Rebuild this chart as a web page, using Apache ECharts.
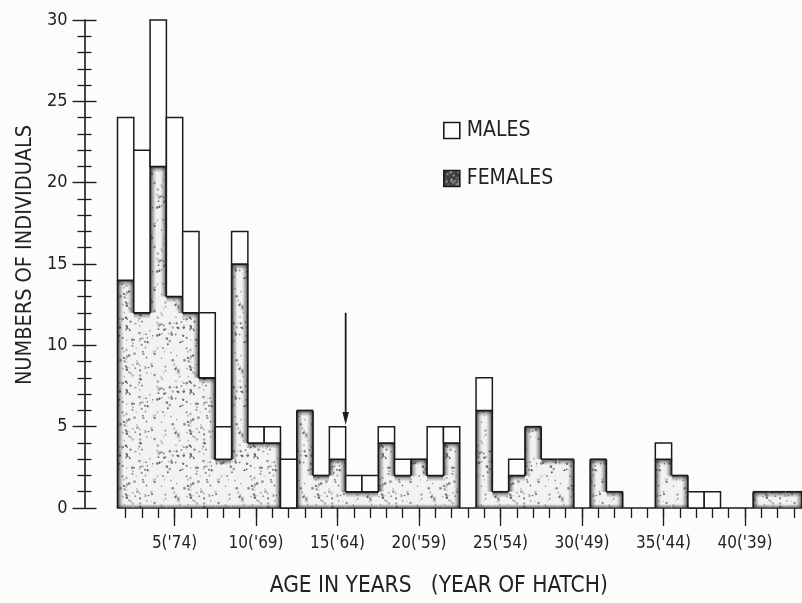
<!DOCTYPE html>
<html>
<head>
<meta charset="utf-8">
<script src="https://cdn.jsdelivr.net/npm/echarts@6/dist/echarts.min.js"></script>
<style>
  html, body { margin: 0; padding: 0; background: #fcfcfb; }
  #chart { width: 802px; height: 603px; }
</style>
</head>
<body>
<div id="chart"></div>
<script>
// Age classes (years) and counts of individuals per class
const ages = [2, 3, 4, 5, 6, 7, 8, 9, 10, 11, 12, 13, 14, 15, 16, 17, 18, 19, 20, 21, 22,
              23, 24, 25, 26, 27, 28, 29, 30, 31, 32, 33, 34, 35, 36, 37, 38, 39, 40, 41, 42, 43];
const females = [14, 12, 21, 13, 12, 8, 3, 15, 4, 4, 0, 6, 2, 3, 1, 1, 4, 2, 3, 2, 4,
                 0, 6, 1, 2, 5, 3, 3, 0, 3, 1, 0, 0, 3, 2, 0, 0, 0, 0, 1, 1, 1];
const males = [10, 10, 9, 11, 5, 4, 2, 2, 1, 1, 3, 0, 0, 2, 1, 1, 1, 1, 0, 3, 1,
               0, 2, 0, 1, 0, 0, 0, 0, 0, 0, 0, 0, 1, 0, 1, 1, 0, 0, 0, 0, 0];

// Labelled ages on the x axis with the year of hatch
const labelAges = [5, 10, 15, 20, 25, 30, 35, 40];
const labelTexts = ["5('74)", "10('69)", "15('64)", "20('59)", "25('54)", "30('49)", "35('44)", "40('39)"];

// Arrow marker: x position (age) and y extent (individuals)
const arrowAge = 15.5;
const arrowFrom = 12;
const arrowTo = 5.1;

const INK = '#1b1b1b';
const FONT = "'DejaVu Sans Condensed', 'Liberation Sans Narrow', 'DejaVu Sans', sans-serif";

// Stippled texture for the female blocks (deterministic dot layout)
function makeStipple(size, bg, dotCount, dotRgb, seed, rMin, rVar) {
  const c = document.createElement('canvas');
  c.width = c.height = size;
  const g = c.getContext('2d');
  g.fillStyle = bg;
  g.fillRect(0, 0, size, size);
  let s = seed;
  const next = () => (s = (s * 1103515245 + 12345) & 0x7fffffff) / 0x7fffffff;
  for (let i = 0; i < dotCount; i++) {
    const x = next() * size, y = next() * size, r = rMin + next() * rVar;
    g.fillStyle = 'rgba(' + dotRgb + ',' + (0.3 + next() * 0.55).toFixed(2) + ')';
    g.beginPath();
    g.arc(x, y, r, 0, Math.PI * 2);
    g.fill();
  }
  return c;
}
const lightStipple = { image: makeStipple(64, '#f2f2f1', 150, '70,70,70', 1234, 0.5, 0.9), repeat: 'repeat' };
const darkStipple = { image: makeStipple(16, '#3a3a3a', 30, '200,200,200', 77, 0.5, 0.8), repeat: 'repeat' };

function band(x, y, w, h, gx0, gy0, gx1, gy1) {
  return {
    type: 'rect',
    shape: { x: x, y: y, width: w, height: h },
    style: {
      fill: new echarts.graphic.LinearGradient(gx0, gy0, gx1, gy1, [
        { offset: 0, color: 'rgba(30,30,30,0.85)' },
        { offset: 0.45, color: 'rgba(60,60,60,0.4)' },
        { offset: 1, color: 'rgba(80,80,80,0)' }
      ])
    }
  };
}

function seg(x1, y1, x2, y2) {
  return { type: 'line', shape: { x1: x1, y1: y1, x2: x2, y2: y2 },
           style: { stroke: INK, lineWidth: 1.6 } };
}

// Female part: stippled blocks with a shaded outline only on exposed edges
function renderFemale(params, api) {
  const i = params.dataIndex;
  const age = api.value(0), f = api.value(1);
  const fp = i > 0 ? females[i - 1] : 0;
  const fn = i < females.length - 1 ? females[i + 1] : 0;
  const bl = api.coord([age - 0.5, 0]);
  const tr = api.coord([age + 0.5, f]);
  const children = [];
  const w = tr[0] - bl[0];
  const B = 6;
  if (f > 0) {
    const h = bl[1] - tr[1];
    children.push({ type: 'rect', shape: { x: bl[0], y: tr[1], width: w, height: h },
                    style: { fill: lightStipple } });
    children.push(band(bl[0], tr[1], w, B, 0, 0, 0, 1));
    children.push(band(bl[0], bl[1] - 4, w, 4, 0, 1, 0, 0));
    if (fp < f) {
      const yTop = tr[1], yBot = api.coord([age, fp])[1];
      children.push(band(bl[0], yTop, B, yBot - yTop, 0, 0, 1, 0));
    }
    if (fn < f) {
      const yTop = tr[1], yBot = api.coord([age, fn])[1];
      children.push(band(tr[0] - B, yTop, B, yBot - yTop, 1, 0, 0, 0));
    }
    children.push(seg(bl[0], tr[1], tr[0], tr[1]));
  }
  if (fp !== f) {
    const a = api.coord([age - 0.5, Math.min(fp, f)]);
    const b = api.coord([age - 0.5, Math.max(fp, f)]);
    children.push(seg(a[0], a[1], b[0], b[1]));
  }
  if (i === females.length - 1 && f > 0) {
    children.push(seg(tr[0], bl[1], tr[0], tr[1]));
  }
  return { type: 'group', children: children };
}

// Male part: open boxes stacked on the female counts
function renderMale(params, api) {
  const age = api.value(0), f = api.value(1), m = api.value(2);
  if (m <= 0) return null;
  const bl = api.coord([age - 0.5, f]);
  const tr = api.coord([age + 0.5, f + m]);
  return {
    type: 'rect',
    shape: { x: bl[0], y: tr[1], width: tr[0] - bl[0], height: bl[1] - tr[1] },
    style: { fill: '#fdfdfc', stroke: INK, lineWidth: 1.5 }
  };
}

function renderArrow(params, api) {
  const top = api.coord([api.value(0), api.value(1)]);
  const tip = api.coord([api.value(0), api.value(2)]);
  const headLen = 13, headHalf = 3.2;
  return {
    type: 'group',
    children: [
      { type: 'line', shape: { x1: top[0], y1: top[1], x2: tip[0], y2: tip[1] - headLen + 2 },
        style: { stroke: INK, lineWidth: 1.8 } },
      { type: 'polygon',
        shape: { points: [[tip[0] - headHalf, tip[1] - headLen], [tip[0] + headHalf, tip[1] - headLen], [tip[0], tip[1]]] },
        style: { fill: INK } }
    ]
  };
}

const femaleData = ages.map((a, i) => [a, females[i]]);
const maleData = ages.map((a, i) => [a, females[i], males[i]]);

const chart = echarts.init(document.getElementById('chart'), null, { renderer: 'canvas' });

const xCommon = {
  type: 'value', min: 1.5, max: 43.5, position: 'bottom',
  splitLine: { show: false }
};
const yCommon = {
  type: 'value', min: 0, max: 30, interval: 5, position: 'left', offset: 33,
  splitLine: { show: false }
};

chart.setOption({
  backgroundColor: '#fcfcfb',
  animation: false,
  grid: { left: 117.5, right: 0, top: 20, bottom: 93, containLabel: false },
  legend: {
    orient: 'vertical', left: 438, top: 115, itemWidth: 16, itemHeight: 16, itemGap: 27,
    selectedMode: false, icon: 'rect',
    textStyle: { fontFamily: FONT, fontSize: 21, color: '#222', padding: [0, 0, 0, 2] },
    data: [
      { name: 'MALES', itemStyle: { color: '#fdfdfc', borderColor: INK, borderWidth: 1.6 } },
      { name: 'FEMALES', itemStyle: { color: darkStipple, borderColor: INK, borderWidth: 1.6 } }
    ]
  },
  xAxis: [
    Object.assign({}, xCommon, {
      axisLine: { show: true, lineStyle: { color: INK, width: 1.6 } },
      axisTick: { show: true, length: 10, customValues: ages, lineStyle: { color: INK, width: 1.3 } },
      axisLabel: { show: false }
    }),
    Object.assign({}, xCommon, {
      axisLine: { show: false },
      axisTick: { show: true, length: 18, customValues: labelAges, lineStyle: { color: INK, width: 1.3 } },
      axisLabel: {
        show: true, customValues: labelAges, margin: 27,
        fontFamily: FONT, fontSize: 17, color: '#222',
        formatter: v => labelTexts[labelAges.indexOf(v)]
      },
      name: 'AGE IN YEARS   (YEAR OF HATCH)', nameLocation: 'middle', nameGap: 67,
      nameTextStyle: { fontFamily: FONT, fontSize: 22.5, color: '#222', padding: [0, 42, 0, 0] }
    })
  ],
  yAxis: [
    Object.assign({}, yCommon, {
      axisLine: { show: true, lineStyle: { color: INK, width: 1.6 } },
      axisTick: { show: true, length: 12, lineStyle: { color: INK, width: 1.4 } },
      minorTick: { show: true, splitNumber: 5, length: 7, lineStyle: { color: INK, width: 1.3 } },
      axisLabel: { show: true, margin: 17, fontFamily: FONT, fontSize: 18, color: '#222' },
      name: 'NUMBERS OF INDIVIDUALS', nameLocation: 'middle', nameGap: 37, nameRotate: 90,
      nameTextStyle: { fontFamily: FONT, fontSize: 21.5, color: '#222', padding: [0, 0, 0, 18] }
    }),
    Object.assign({}, yCommon, {
      axisLine: { show: false },
      axisTick: { show: true, inside: true, length: 12, lineStyle: { color: INK, width: 1.4 } },
      minorTick: { show: true, splitNumber: 5, length: 7, lineStyle: { color: INK, width: 1.3 } },
      axisLabel: { show: false }
    })
  ],
  series: [
    {
      name: 'FEMALES', type: 'custom', renderItem: renderFemale, data: femaleData,
      xAxisIndex: 0, yAxisIndex: 0, clip: false, z: 2,
      itemStyle: { color: '#555' },
      encode: { x: 0, y: 1 }
    },
    {
      name: 'MALES', type: 'custom', renderItem: renderMale, data: maleData,
      xAxisIndex: 0, yAxisIndex: 0, clip: false, z: 3,
      itemStyle: { color: '#fdfdfc' },
      encode: { x: 0, y: [1, 2] }
    },
    {
      name: 'arrow', type: 'custom', renderItem: renderArrow,
      data: [[arrowAge, arrowFrom, arrowTo]],
      xAxisIndex: 0, yAxisIndex: 0, clip: false, z: 4,
      encode: { x: 0, y: [1, 2] }
    }
  ]
});
</script>
</body>
</html>
